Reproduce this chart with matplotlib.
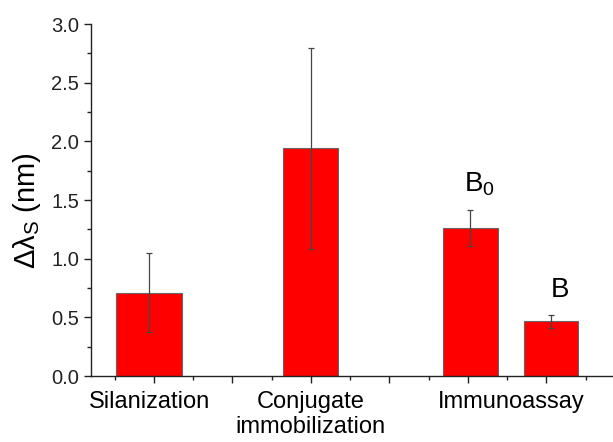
import numpy as np
import matplotlib
matplotlib.use("Agg")
import matplotlib.pyplot as plt
from matplotlib.ticker import MultipleLocator

plt.rcParams["font.family"] = ["Liberation Sans", "DejaVu Sans"]
plt.rcParams["mathtext.fontset"] = "custom"
plt.rcParams["mathtext.rm"] = "Liberation Sans"
plt.rcParams["mathtext.it"] = "Liberation Sans:italic"

# ── data ──────────────────────────────────────────────────────────────────────
steps      = ["Silanization", "Conjugate\nimmobilization", "Immunoassay"]
step_pos   = [0.95, 3.0, 5.55]
bar_pos    = [0.94, 3.0, 5.03, 6.06]
bar_width  = [0.84, 0.70, 0.70, 0.70]
shift_nm   = [0.71, 1.94, 1.26, 0.465]
shift_err  = [0.335, 0.855, 0.153, 0.056]
bar_labels = ["", "", "B$_\\mathrm{0}$", "B"]

# ── figure ────────────────────────────────────────────────────────────────────
fig = plt.figure(figsize=(6.13, 4.42), dpi=100)
ax = fig.add_axes([0.1485, 0.1493, 0.8515, 0.7964])

ax.bar(bar_pos, shift_nm, width=bar_width, color="#ff0000",
       edgecolor="#666666", linewidth=0.8, zorder=2)
ax.errorbar(bar_pos, shift_nm, yerr=shift_err, fmt="none", ecolor="#454545",
            elinewidth=0.9, capsize=2.5, capthick=0.9, zorder=3)

for x, y, e, lab in zip(bar_pos, shift_nm, shift_err, bar_labels):
    if lab:
        ax.text(x + 0.12, y + e + 0.1, lab, ha="center", va="bottom", fontsize=20)

ax.set_xlim(0.2, 6.85)
ax.set_ylim(0, 3.0)
ax.xaxis.set_major_locator(MultipleLocator(1))
ax.xaxis.set_minor_locator(MultipleLocator(0.5))
ax.yaxis.set_major_locator(MultipleLocator(0.5))
ax.yaxis.set_minor_locator(MultipleLocator(0.25))
ax.yaxis.set_major_formatter(matplotlib.ticker.FormatStrFormatter("%.1f"))
ax.tick_params(axis="both", which="major", direction="out", length=5,
               width=1, labelsize=14.5, colors="#222222")
ax.tick_params(axis="both", which="minor", direction="out", length=3, width=1,
               colors="#222222")
ax.tick_params(axis="x", which="both", labelbottom=False)

for sp in ["top", "right"]:
    ax.spines[sp].set_visible(False)
for sp in ["left", "bottom"]:
    ax.spines[sp].set_linewidth(1.0)
    ax.spines[sp].set_color("#222222")

for x, s in zip(step_pos, steps):
    ax.text(x, -0.125, s, transform=ax.transData, ha="center", va="top",
            fontsize=17, linespacing=1.22)

ax.set_ylabel("$\\mathrm{Δλ_S}$ (nm)", fontsize=21)
ax.yaxis.set_label_coords(-0.092, 0.47)

fig.savefig("out.png", dpi=100)
